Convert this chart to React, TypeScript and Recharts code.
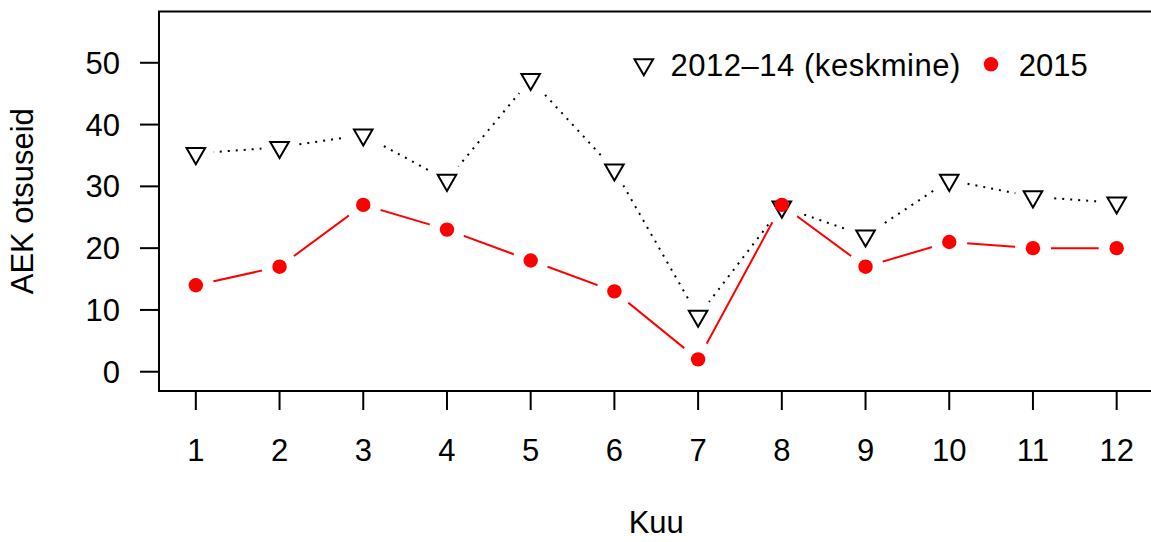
import React from 'react'
import { ComposedChart, Line, XAxis, YAxis, ReferenceArea, Legend } from 'recharts'

const months = [1, 2, 3, 4, 5, 6, 7, 8, 9, 10, 11, 12]
const avg2012to14 = [35.33, 36.33, 38.33, 31, 47.33, 32.67, 9, 26.67, 22, 31, 28.33, 27.33]
const values2015 = [14, 17, 27, 23, 18, 13, 2, 27, 17, 21, 20, 20]
const yTicks = [0, 10, 20, 30, 40, 50]
const seriesNames = ['2012–14 (keskmine)', '2015']
const xTitle = 'Kuu'
const yTitle = 'AEK otsuseid'

const data = months.map((m, i) => ({ kuu: m, avg: avg2012to14[i], y2015: values2015[i] }))

const font = '"Liberation Sans", Arial, Helvetica, sans-serif'
const fontSize = 31
const xDomain = [0.56, 12.44]
const yDomain = [-3.12, 58.3]
const red = '#ff0000'

// R pch=6 style triangle (point down)
const triPoints = (cx: number, cy: number, s = 6.9) => {
   const r = 1.5551 * s
   const xc = 1.3468 * s
   return `${cx},${cy + r} ${cx + xc},${cy - r / 2} ${cx - xc},${cy - r / 2}`
}

const haloDot = (props: any) => (
   <circle key={`h-${props.dataKey}-${props.index}`} cx={props.cx} cy={props.cy} r={18} fill='#fff' />
)

const triangleDot = (props: any) => (
   <polygon key={`t-${props.index}`} points={triPoints(props.cx, props.cy)} fill='none' stroke='#000' strokeWidth={2} />
)

const redDot = (props: any) => (
   <circle key={`r-${props.index}`} cx={props.cx} cy={props.cy} r={7.2} fill={red} />
)

const renderYTitle = (props: any) => {
   const { viewBox } = props
   const x = viewBox.x + 33
   const y = viewBox.y + viewBox.height / 2
   return (
      <text x={x} y={y} transform={`rotate(-90 ${x} ${y})`} textAnchor='middle' fontSize={fontSize} fontFamily={font} fill='#000'>
         {yTitle}
      </text>
   )
}

const renderXTitle = (props: any) => {
   const { viewBox } = props
   return (
      <text x={viewBox.x + viewBox.width / 2} y={viewBox.y + 142} textAnchor='middle' fontSize={fontSize} fontFamily={font} fill='#000'>
         {xTitle}
      </text>
   )
}

const renderLegend = () => (
   <svg width={1151} height={100} style={{ display: 'block' }}>
      <polygon points={triPoints(643.8, 64.6)} fill='none' stroke='#000' strokeWidth={2} />
      <text x={670.4} y={76} fontSize={fontSize} fontFamily={font} fill='#000' textLength={290} lengthAdjust='spacing'>{seriesNames[0]}</text>
      <circle cx={991} cy={64.3} r={7.2} fill={red} />
      <text x={1018.7} y={76} fontSize={fontSize} fontFamily={font} fill='#000'>{seriesNames[1]}</text>
   </svg>
)

export default function App() {
   return (
      <div style={{ position: 'absolute', left: 0, top: 0, width: 1151, height: 542, overflow: 'hidden', background: '#fff' }}>
         <ComposedChart
            width={1160}
            height={542}
            data={data}
            margin={{ top: 11.5, right: 6.5, bottom: 71, left: 0 }}
            style={{ fontFamily: font }}
         >
            <XAxis
               dataKey='kuu'
               type='number'
               domain={xDomain}
               ticks={months}
               allowDataOverflow
               height={80}
               axisLine={false}
               tickSize={19}
               tickMargin={29}
               tickLine={{ stroke: '#000', strokeWidth: 2 }}
               tick={{ fontSize, fill: '#000', fontFamily: font }}
               label={{ value: xTitle, content: renderXTitle }}
            />
            <YAxis
               type='number'
               domain={yDomain}
               ticks={yTicks}
               allowDataOverflow
               width={159}
               axisLine={false}
               tickSize={19}
               tickMargin={20}
               tickLine={{ stroke: '#000', strokeWidth: 2 }}
               tick={{ fontSize, fill: '#000', fontFamily: font }}
               label={{ value: yTitle, content: renderYTitle }}
            />
            <ReferenceArea
               x1={xDomain[0]}
               x2={xDomain[1]}
               y1={yDomain[0]}
               y2={yDomain[1]}
               fill='none'
               stroke='#000'
               strokeWidth={2}
               ifOverflow='visible'
            />

            {/* lines */}
            <Line dataKey='avg' name={seriesNames[0]} type='linear' stroke='#000' strokeWidth={2} strokeDasharray='2 6' dot={false} activeDot={false} isAnimationActive={false} />
            <Line dataKey='y2015' name={seriesNames[1]} type='linear' stroke={red} strokeWidth={2} dot={false} activeDot={false} isAnimationActive={false} />

            {/* white gaps around points, like R type="b" */}
            <Line dataKey='avg' legendType='none' stroke='none' dot={haloDot} activeDot={false} isAnimationActive={false} />
            <Line dataKey='y2015' legendType='none' stroke='none' dot={haloDot} activeDot={false} isAnimationActive={false} />

            {/* markers */}
            <Line dataKey='avg' legendType='none' stroke='none' dot={triangleDot} activeDot={false} isAnimationActive={false} />
            <Line dataKey='y2015' legendType='none' stroke='none' dot={redDot} activeDot={false} isAnimationActive={false} />

            <Legend
               verticalAlign='middle'
               align='center'
               layout='horizontal'
               content={renderLegend}
               wrapperStyle={{ left: 0, top: 0, width: 1151, height: 100, margin: 0 }}
            />
         </ComposedChart>
      </div>
   )
}
